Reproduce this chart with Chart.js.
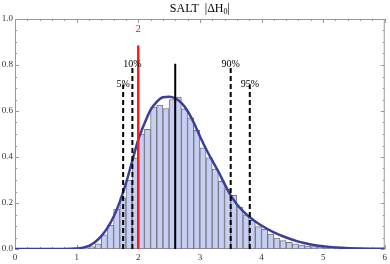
<!DOCTYPE html>
<html>
<head>
<meta charset="utf-8">
<script src="https://cdn.jsdelivr.net/npm/chart.js@4.4.0/dist/chart.umd.min.js"></script>
<style>
html, body { margin: 0; padding: 0; background: #fff; }
</style>
</head>
<body>
<canvas id="chart" width="390" height="264"></canvas>
<script>
// histogram bins (centre of each 0.1 wide bin) and heights
const binCenters = [0.95, 1.05, 1.15, 1.25, 1.35, 1.45, 1.55, 1.65, 1.75, 1.85, 1.95,
    2.05, 2.15, 2.25, 2.35, 2.45, 2.55, 2.65, 2.75, 2.85, 2.95,
    3.05, 3.15, 3.25, 3.35, 3.45, 3.55, 3.65, 3.75, 3.85, 3.95,
    4.05, 4.15, 4.25, 4.35, 4.45, 4.55, 4.65, 4.75, 4.85, 4.95,
    5.05, 5.15, 5.25, 5.35, 5.45, 5.55];
const binHeights = [0.001, 0.002, 0.004, 0.010, 0.022, 0.062, 0.103, 0.174, 0.222, 0.300, 0.395,
    0.500, 0.520, 0.617, 0.626, 0.611, 0.650, 0.660, 0.609, 0.570, 0.516,
    0.440, 0.396, 0.348, 0.294, 0.261, 0.233, 0.182, 0.149, 0.125, 0.097,
    0.086, 0.065, 0.048, 0.037, 0.029, 0.023, 0.017, 0.013, 0.010, 0.007,
    0.012, 0.004, 0.003, 0.003, 0.002, 0.001];

// fitted curve
const curveX = [0, 0.8, 1.0, 1.1, 1.2, 1.3, 1.4, 1.5, 1.6, 1.7, 1.8, 1.9, 2.0,
    2.1, 2.2, 2.3, 2.4, 2.5, 2.6, 2.7, 2.8, 2.9, 3.0, 3.1, 3.2, 3.3, 3.4, 3.5,
    3.6, 3.7, 3.8, 3.9, 4.0, 4.2, 4.4, 4.6, 4.8, 5.0, 5.3, 5.6, 6.0];
const curveY = [0, 0, 0.002, 0.006, 0.014, 0.030, 0.056, 0.092, 0.140, 0.205, 0.285, 0.380, 0.475,
    0.545, 0.605, 0.640, 0.660, 0.662, 0.655, 0.635, 0.600, 0.550, 0.490, 0.435, 0.385, 0.337, 0.283, 0.233,
    0.195, 0.165, 0.140, 0.120, 0.102, 0.072, 0.050, 0.032, 0.020, 0.012, 0.005, 0.002, 0.001];

// percentile markers
const markerNames = ['5%', '10%', '90%', '95%'];
const markerX = [1.755, 1.905, 3.50, 3.81];
const markerTop = [0.715, 0.801, 0.801, 0.715];

const redX = 2.0;
const redTop = 0.885;
const redLabel = '2';
const centralX = 2.6;
const centralTop = 0.805;

const xTicks = [0, 1, 2, 3, 4, 5, 6];
const yTicks = [0.0, 0.2, 0.4, 0.6, 0.8, 1.0];

const serif = "'Liberation Serif', 'DejaVu Serif', serif";

function vline(x, top, color, dash, width, order) {
    return {
        type: 'line',
        data: [{ x: x, y: 0 }, { x: x, y: top }],
        borderColor: color,
        borderWidth: width,
        borderDash: dash,
        pointRadius: 0,
        fill: false,
        order: order
    };
}

const datasets = [];
markerX.forEach(function (x, i) {
    datasets.push(vline(x, markerTop[i], '#000', [5, 3], 2, 0));
});
datasets.push(vline(centralX, centralTop, '#000', [], 2, 0));
datasets.push(vline(redX, redTop, '#ff1a1a', [], 2.5, 0));
datasets.push({
    type: 'line',
    data: curveX.map(function (x, i) { return { x: x, y: curveY[i] }; }),
    borderColor: '#3b3f99',
    borderWidth: 2.5,
    pointRadius: 0,
    cubicInterpolationMode: 'monotone',
    fill: false,
    order: 1
});
datasets.push({
    type: 'bar',
    data: binCenters.map(function (x, i) { return { x: x, y: binHeights[i] }; }),
    backgroundColor: '#c6cff3',
    borderColor: '#77777f',
    borderWidth: 1,
    borderSkipped: false,
    barPercentage: 1,
    categoryPercentage: 1,
    order: 2
});

// frame, inside ticks, labels and title
const decor = {
    id: 'decor',
    beforeDatasetsDraw: function (chart) {
        const ctx = chart.ctx;
        const a = chart.chartArea;
        const xs = chart.scales.x, ys = chart.scales.y;
        ctx.save();
        ctx.strokeStyle = '#999';
        ctx.lineWidth = 1;
        ctx.strokeRect(a.left + 0.5, a.top + 0.5, a.right - a.left - 1, a.bottom - a.top - 1);
        ctx.beginPath();
        for (let i = 0; i <= 30; i++) {
            const v = i * 0.2;
            const px = Math.round(xs.getPixelForValue(v)) + 0.5;
            const len = (i % 5 === 0) ? 4 : 2;
            ctx.moveTo(px, a.bottom); ctx.lineTo(px, a.bottom - len);
            ctx.moveTo(px, a.top); ctx.lineTo(px, a.top + len);
        }
        for (let i = 0; i <= 20; i++) {
            const v = i * 0.05;
            const py = Math.round(ys.getPixelForValue(v)) + 0.5;
            const len = (i % 4 === 0) ? 4 : 2;
            ctx.moveTo(a.left, py); ctx.lineTo(a.left + len, py);
            ctx.moveTo(a.right, py); ctx.lineTo(a.right - len, py);
        }
        ctx.stroke();
        ctx.restore();
    },
    afterDatasetsDraw: function (chart) {
        const ctx = chart.ctx;
        const a = chart.chartArea;
        const xs = chart.scales.x, ys = chart.scales.y;
        ctx.save();
        ctx.font = '10px ' + serif;
        ctx.textAlign = 'center';
        ctx.textBaseline = 'middle';
        ctx.fillStyle = '#000';
        markerNames.forEach(function (t, i) {
            ctx.fillText(t, xs.getPixelForValue(markerX[i]), ys.getPixelForValue(markerTop[i]));
        });
        ctx.fillStyle = '#ff0000';
        ctx.fillText(redLabel, xs.getPixelForValue(redX), ys.getPixelForValue(0.957));

        // title with subscript
        const cx = (a.left + a.right) / 2;
        const main = 'SALT  |\u0394H';
        ctx.font = '12px ' + serif;
        const w1 = ctx.measureText(main).width;
        const w3 = ctx.measureText('|').width;
        ctx.font = '8px ' + serif;
        const w2 = ctx.measureText('0').width;
        let x0 = cx - (w1 + w2 + w3) / 2;
        ctx.textAlign = 'left';
        ctx.fillStyle = '#000';
        ctx.font = '12px ' + serif;
        ctx.fillText(main, x0, 9);
        ctx.font = '8px ' + serif;
        ctx.fillText('0', x0 + w1, 12);
        ctx.font = '12px ' + serif;
        ctx.fillText('|', x0 + w1 + w2, 9);
        ctx.restore();
    }
};

new Chart(document.getElementById('chart'), {
    type: 'bar',
    data: { datasets: datasets },
    options: {
        responsive: false,
        animation: false,
        devicePixelRatio: 1,
        layout: { padding: { top: 19, right: 2, left: 0, bottom: 0 } },
        plugins: { legend: { display: false }, tooltip: { enabled: false }, title: { display: false } },
        scales: {
            x: {
                type: 'linear',
                min: 0,
                max: 6,
                offset: false,
                afterFit: function (s) { s.height = 15; },
                afterBuildTicks: function (s) { s.ticks = xTicks.map(function (v) { return { value: v }; }); },
                grid: { display: false, drawTicks: false },
                border: { display: false },
                ticks: {
                    padding: 3,
                    color: '#333',
                    font: { family: serif, size: 9 },
                    maxRotation: 0,
                    callback: function (v) { return String(v); }
                }
            },
            y: {
                type: 'linear',
                min: 0,
                max: 1,
                afterFit: function (s) { s.width = 15; },
                afterBuildTicks: function (s) { s.ticks = yTicks.map(function (v) { return { value: v }; }); },
                grid: { display: false, drawTicks: false },
                border: { display: false },
                ticks: {
                    padding: 2,
                    color: '#333',
                    font: { family: serif, size: 9 },
                    callback: function (v) { return v.toFixed(1); }
                }
            }
        }
    },
    plugins: [decor]
});
</script>
</body>
</html>
